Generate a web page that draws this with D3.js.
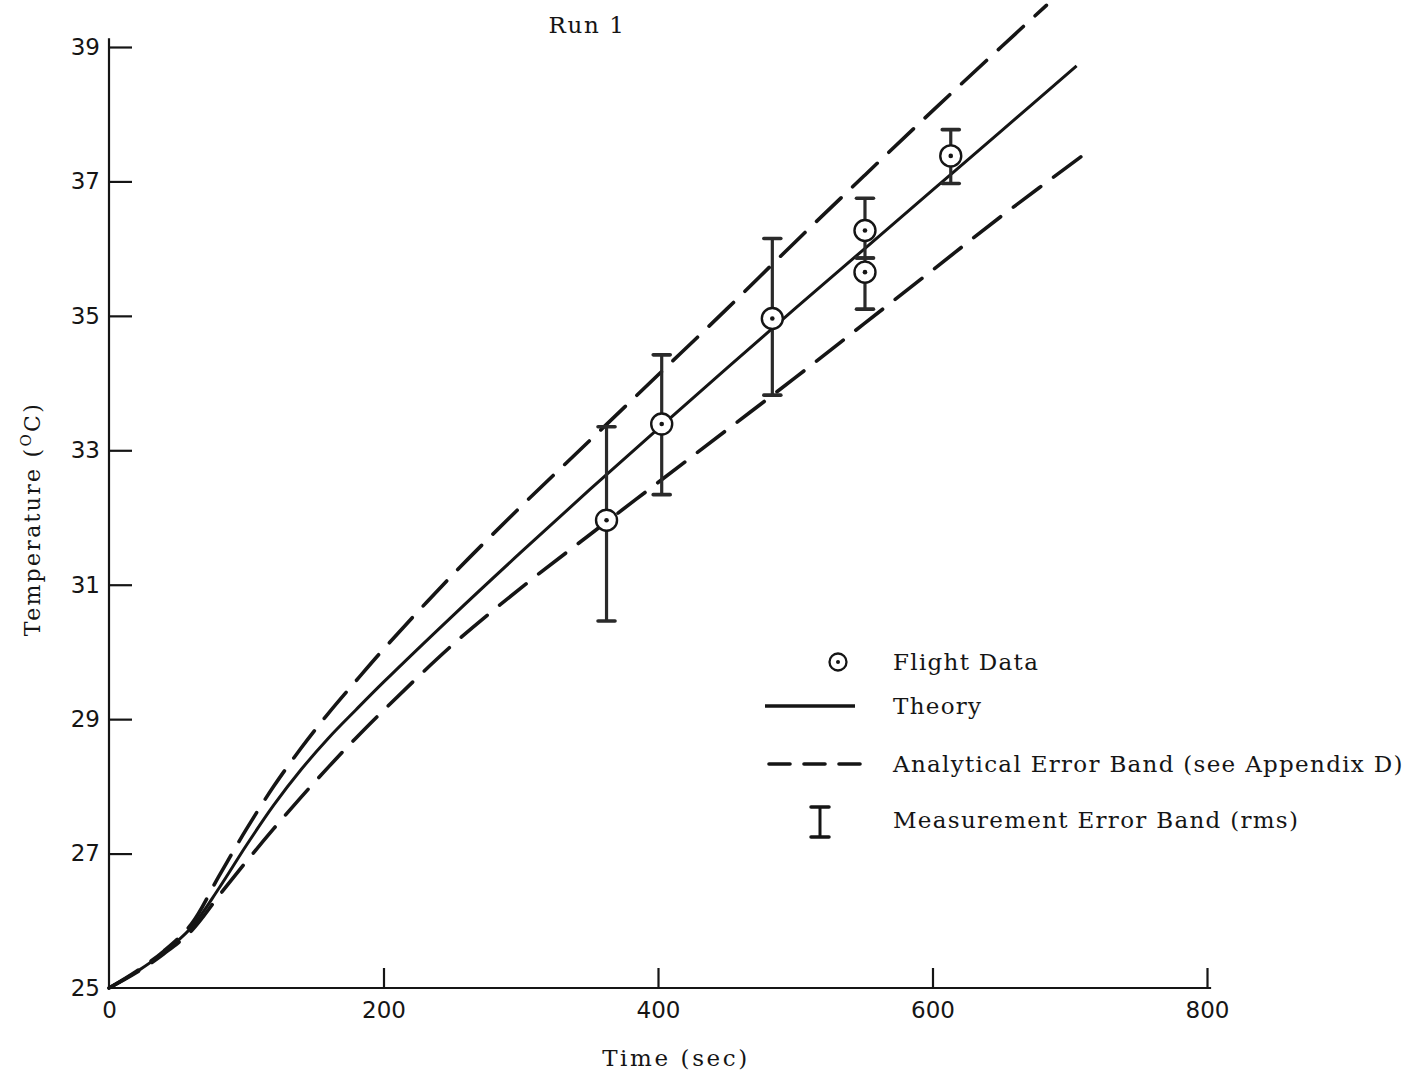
<!DOCTYPE html>
<html>
<head>
<meta charset="utf-8">
<script src="https://cdn.jsdelivr.net/npm/d3@7"></script>
<style>
  html, body { margin: 0; padding: 0; background: #fff; }
  svg { display: block; }
  .serif { font-family: "DejaVu Serif", serif; fill: #151515; }
  .tick text { font-family: "DejaVu Sans", sans-serif; font-size: 23px; fill: #151515; }
</style>
</head>
<body>
<svg id="chart" width="1408" height="1075"></svg>
<script>
// Run 1 temperature history: theory, analytical error band and flight data
const timeTicks = [0, 200, 400, 600, 800];
const tempTicks = [25, 27, 29, 31, 33, 35, 37, 39];

// Theory curve (time in s, temperature in °C)
const theoryTime = [0, 20, 40, 60, 80, 100, 120, 140, 160, 180, 200, 250, 300, 350, 400, 450, 500, 550, 600, 650, 705];
const theoryTemp = [25.0, 25.24, 25.53, 25.9, 26.48, 27.12, 27.72, 28.25, 28.72, 29.14, 29.55, 30.53, 31.48, 32.41, 33.32, 34.22, 35.11, 35.99, 36.87, 37.75, 38.72];

// Upper limit of the analytical error band
const upperTime = [0, 20, 40, 60, 80, 100, 120, 140, 160, 180, 200, 250, 300, 350, 400, 450, 500, 550, 600, 650, 683];
const upperTemp = [25.0, 25.25, 25.55, 25.95, 26.66, 27.36, 28.0, 28.57, 29.09, 29.57, 30.04, 31.14, 32.16, 33.14, 34.12, 35.1, 36.1, 37.08, 38.05, 39.0, 39.62];

// Lower limit of the analytical error band
const lowerTime = [0, 20, 40, 60, 80, 100, 120, 140, 160, 180, 200, 250, 300, 350, 400, 450, 500, 550, 600, 650, 715];
const lowerTemp = [25.0, 25.23, 25.51, 25.85, 26.37, 26.88, 27.37, 27.84, 28.29, 28.72, 29.13, 30.1, 30.95, 31.74, 32.52, 33.3, 34.08, 34.88, 35.68, 36.48, 37.47];

// Flight data points with rms measurement error limits
const flightTime = [362.5, 402.7, 483.3, 550.8, 550.8, 613.3];
const flightTemp = [31.96, 33.39, 34.96, 36.27, 35.65, 37.38];
const flightLow  = [30.46, 32.34, 33.82, 35.86, 35.10, 36.97];
const flightHigh = [33.35, 34.42, 36.15, 36.75, 35.86, 37.77];

const legendLabels = ["Flight Data", "Theory", "Analytical Error Band (see Appendix D)", "Measurement Error Band (rms)"];

const ink = "#151515";
const svg = d3.select("#chart");

const x = d3.scaleLinear().domain([0, 800]).range([109, 1207]);
const y = d3.scaleLinear().domain([25, 39]).range([988, 47]);

// Axes: ticks point into the plot
const xAxis = d3.axisBottom(x).tickValues(timeTicks).tickSizeInner(-20).tickSizeOuter(0).tickPadding(14);
const yAxis = d3.axisLeft(y).tickValues(tempTicks).tickSizeInner(-23).tickSizeOuter(0).tickPadding(9);

const gx = svg.append("g").attr("transform", `translate(0,${y(25)})`).call(xAxis);
const gy = svg.append("g").attr("transform", `translate(${x(0)},0)`).call(yAxis);
gx.select(".domain").remove();
gy.select(".domain").remove();
gx.selectAll(".tick line").attr("stroke", ink).attr("stroke-width", 2.2);
gy.selectAll(".tick line").attr("stroke", ink).attr("stroke-width", 2.2);
gx.selectAll(".tick").filter(d => d === 0).select("line").remove();
gy.selectAll(".tick").filter(d => d === 25).select("line").remove();

// Axis lines (slightly longer than the tick range)
svg.append("line")
  .attr("x1", x(0)).attr("x2", x(803))
  .attr("y1", y(25)).attr("y2", y(25))
  .attr("stroke", ink).attr("stroke-width", 2.2);
svg.append("line")
  .attr("x1", x(0)).attr("x2", x(0))
  .attr("y1", y(25)).attr("y2", y(39.13))
  .attr("stroke", ink).attr("stroke-width", 2.2);

// Titles
svg.append("text").attr("class", "serif")
  .attr("x", 587).attr("y", 33).attr("text-anchor", "middle")
  .attr("font-size", 23).attr("letter-spacing", 1.6).text("Run 1");

svg.append("text").attr("class", "serif")
  .attr("x", 676).attr("y", 1066).attr("text-anchor", "middle")
  .attr("font-size", 23).attr("letter-spacing", 2.6).text("Time (sec)");

const yt = svg.append("text").attr("class", "serif")
  .attr("transform", "translate(40,519) rotate(-90)")
  .attr("text-anchor", "middle").attr("font-size", 22).attr("letter-spacing", 2.3);
yt.append("tspan").text("Temperature (");
yt.append("tspan").attr("dy", -9).attr("font-size", 15).text("O");
yt.append("tspan").attr("dy", 9).text("C)");

// Curves
const toPts = (ts, vs) => ts.map((t, i) => [t, vs[i]]);
const line = d3.line().x(d => x(d[0])).y(d => y(d[1])).curve(d3.curveCatmullRom.alpha(0.5));

svg.append("path").attr("d", line(toPts(upperTime, upperTemp)))
  .attr("fill", "none").attr("stroke", ink).attr("stroke-width", 3.6)
  .attr("stroke-linecap", "round").attr("stroke-dasharray", "34 16");
svg.append("path").attr("d", line(toPts(lowerTime, lowerTemp)))
  .attr("fill", "none").attr("stroke", ink).attr("stroke-width", 3.6)
  .attr("stroke-linecap", "round").attr("stroke-dasharray", "34 16");
svg.append("path").attr("d", line(toPts(theoryTime, theoryTemp)))
  .attr("fill", "none").attr("stroke", ink).attr("stroke-width", 3);

// Measurement error bars
const flight = flightTime.map((t, i) => ({ t, v: flightTemp[i], lo: flightLow[i], hi: flightHigh[i] }));
const capW = 8.5;
const bars = svg.append("g").attr("stroke", "#2a2a2a").attr("stroke-width", 3.2);
flight.forEach(d => {
  bars.append("line").attr("x1", x(d.t)).attr("x2", x(d.t)).attr("y1", y(d.lo)).attr("y2", y(d.hi));
  bars.append("line").attr("x1", x(d.t) - capW).attr("x2", x(d.t) + capW)
    .attr("y1", y(d.hi)).attr("y2", y(d.hi)).attr("stroke-width", 3.6).attr("stroke-linecap", "round");
  bars.append("line").attr("x1", x(d.t) - capW).attr("x2", x(d.t) + capW)
    .attr("y1", y(d.lo)).attr("y2", y(d.lo)).attr("stroke-width", 3.6).attr("stroke-linecap", "round");
});

// Flight data markers
const marks = svg.append("g").selectAll("g").data(flight).join("g")
  .attr("transform", d => `translate(${x(d.t)},${y(d.v)})`);
marks.append("circle").attr("r", 10.5).attr("fill", "#fff").attr("stroke", ink).attr("stroke-width", 2.4);
marks.append("circle").attr("r", 2.3).attr("fill", ink);

// Legend
const lg = svg.append("g");
const textX = 893;
const rows = [662, 706, 764, 820];
legendLabels.forEach((s, i) => {
  lg.append("text").attr("class", "serif")
    .attr("x", textX).attr("y", rows[i] + 8)
    .attr("font-size", 23).attr("letter-spacing", 1.3).text(s);
});
lg.append("circle").attr("cx", 838).attr("cy", rows[0]).attr("r", 8.5)
  .attr("fill", "#fff").attr("stroke", ink).attr("stroke-width", 2.3);
lg.append("circle").attr("cx", 838).attr("cy", rows[0]).attr("r", 2).attr("fill", ink);
lg.append("line").attr("x1", 765).attr("x2", 855).attr("y1", rows[1]).attr("y2", rows[1])
  .attr("stroke", ink).attr("stroke-width", 3.5);
lg.append("line").attr("x1", 769).attr("x2", 860).attr("y1", rows[2]).attr("y2", rows[2])
  .attr("stroke", ink).attr("stroke-width", 3.6).attr("stroke-linecap", "round").attr("stroke-dasharray", "21 14");
lg.append("line").attr("x1", 820).attr("x2", 820).attr("y1", rows[3] - 13).attr("y2", rows[3] + 17)
  .attr("stroke", ink).attr("stroke-width", 3);
lg.append("line").attr("x1", 811).attr("x2", 829).attr("y1", rows[3] - 13).attr("y2", rows[3] - 13)
  .attr("stroke", ink).attr("stroke-width", 3.5).attr("stroke-linecap", "round");
lg.append("line").attr("x1", 811).attr("x2", 829).attr("y1", rows[3] + 17).attr("y2", rows[3] + 17)
  .attr("stroke", ink).attr("stroke-width", 3.5).attr("stroke-linecap", "round");
</script>
</body>
</html>
